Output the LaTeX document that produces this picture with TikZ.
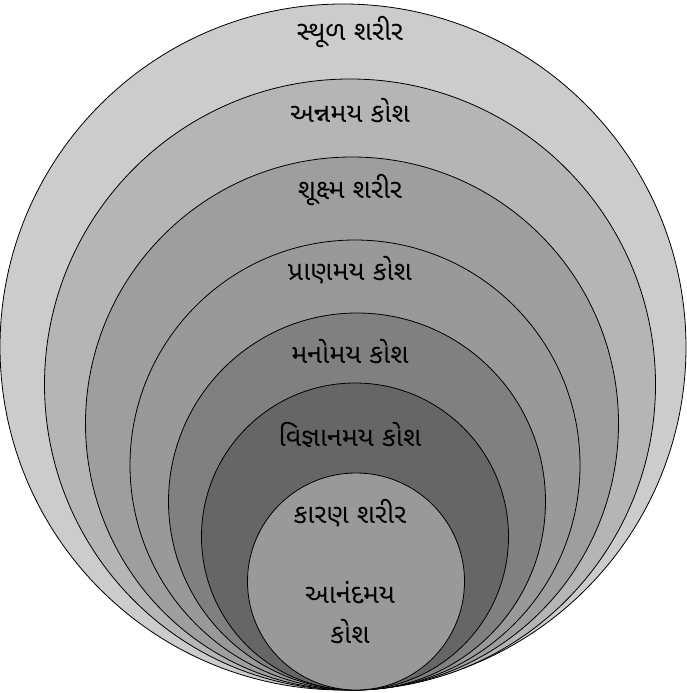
\documentclass[tikz,border=0pt]{standalone}
\usepackage{fontspec}
\newfontfamily\guj[Script=Gujarati]{Noto Sans Gujarati UI}
\definecolor{g1}{gray}{0.80}
\definecolor{g2}{gray}{0.71}
\definecolor{g3}{gray}{0.62}
\definecolor{g4}{gray}{0.60}
\definecolor{g5}{gray}{0.50}
\definecolor{g6}{gray}{0.40}
\definecolor{g7}{gray}{0.60}
\begin{document}
\begin{tikzpicture}[x=1pt,y=-1pt,
  ring/.style={circle,draw=black,line width=0.8pt,inner sep=0pt,minimum size=#1},
  lbl/.style={font=\guj\fontsize{27}{40}\selectfont,text=black,align=center}]
\useasboundingbox (0,0) rectangle (686,693);
\node[ring=686pt,fill=g1] (c1) at (343,347) {};
\node[ring=611pt,fill=g2] (c2) at (350,384.5) {};
\node[ring=533pt,fill=g3] (c3) at (352,423.5) {};
\node[ring=450pt,fill=g4] (c4) at (355,465) {};
\node[ring=377pt,fill=g5] (c5) at (357,501.5) {};
\node[ring=307pt,fill=g6] (c6) at (355,536.5) {};
\node[ring=217pt,fill=g7] (c7) at (356,581.5) {};
\node[lbl] (t1) at (350,32) {સ્થૂળ શરીર};
\node[lbl] (t2) at (350,111) {અન્નમય કોશ};
\node[lbl] (t3) at (350,190) {શૂક્ષ્મ શરીર};
\node[lbl] (t4) at (350,270) {પ્રાણમય કોશ};
\node[lbl] (t5) at (350,352) {મનોમય કોશ};
\node[lbl] (t6) at (350,435) {વિજ્ઞાનમય કોશ};
\node[lbl] (t7) at (350,513) {કારણ શરીર};
\node[lbl] (t8) at (350,613) {આનંદમય\\કોશ};
\end{tikzpicture}
\end{document}
